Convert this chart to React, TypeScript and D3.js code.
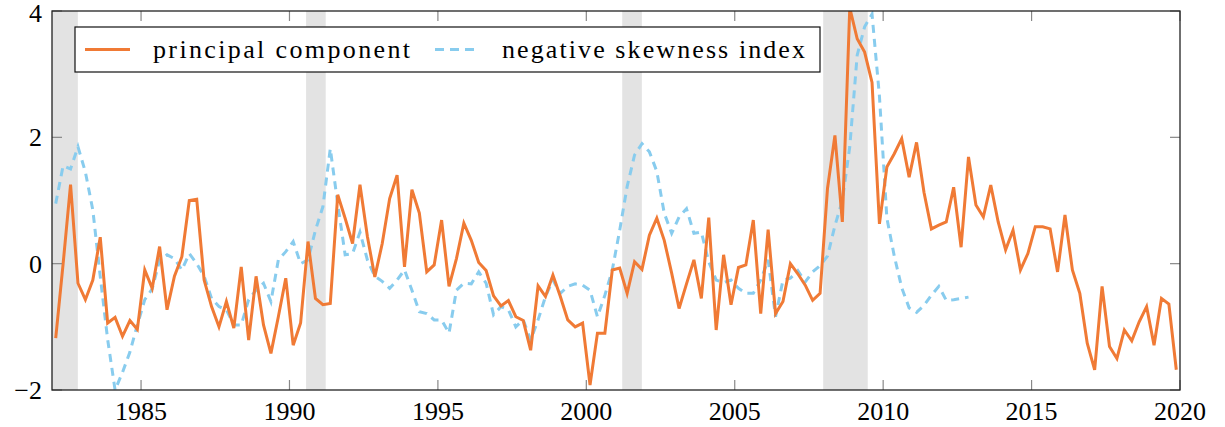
import React from "react";
import * as d3 from "d3";

const principalComponent = [
  -1.18, 0.0, 1.25, -0.31, -0.57, -0.26, 0.42, -0.94, -0.85, -1.15, -0.9, -1.04, -0.1, -0.39, 0.27, -0.73, -0.2, 0.11, 1.0, 1.02, -0.26, -0.68, -1.0, -0.6, -1.02,
  -0.05, -1.21, -0.2, -0.97, -1.42, -0.84, -0.23, -1.29, -0.94, 0.35, -0.55, -0.65, -0.63, 1.09, 0.72, 0.32, 1.25, 0.43, -0.21, 0.32, 1.03, 1.4, -0.05, 1.17, 0.8,
  -0.13, -0.02, 0.69, -0.36, 0.08, 0.64, 0.37, 0.02, -0.11, -0.51, -0.67, -0.585, -0.84, -0.9, -1.37, -0.35, -0.52, -0.18, -0.52, -0.89, -1.0, -0.94, -1.92, -1.1, -1.1,
  -0.1, -0.07, -0.47, 0.03, -0.09, 0.45, 0.72, 0.37, -0.15, -0.71, -0.32, 0.06, -0.55, 0.73, -1.05, 0.14, -0.65, -0.06, -0.02, 0.69, -0.79, 0.54, -0.79, -0.6, 0.0,
  -0.16, -0.34, -0.58, -0.47, 1.19, 2.03, 0.66, 4.05, 3.56, 3.35, 2.87, 0.63, 1.53, 1.74, 1.98, 1.37, 1.92, 1.13, 0.55, 0.61, 0.66, 1.21, 0.26, 1.69, 0.93,
  0.74, 1.245, 0.66, 0.22, 0.53, -0.1, 0.16, 0.585, 0.585, 0.55, -0.13, 0.77, -0.1, -0.47, -1.26, -1.68, -0.36, -1.31, -1.5, -1.05, -1.22, -0.92, -0.68, -1.29, -0.55, -0.64, -1.68,
];

const skewnessIndex = [
  0.95, 1.55, 1.5, 1.85, 1.45, 0.85, -0.2, -1.2, -2.0, -1.72, -1.4, -0.97, -0.57, -0.4, 0.06, 0.14, 0.08, -0.1, 0.16, 0.0, -0.2, -0.55, -0.68, -0.73, -0.97,
  -0.97, -0.57, -0.42, -0.31, -0.6, 0.06, 0.19, 0.35, 0.0, 0.06, 0.53, 0.9, 1.82, 0.95, 0.14, 0.16, 0.5, 0.06, -0.2, -0.28, -0.39, -0.26, -0.1, -0.42, -0.76,
  -0.79, -0.89, -0.89, -1.1, -0.42, -0.31, -0.32, -0.13, -0.31, -0.81, -0.68, -0.73, -1.0, -0.89, -1.21, -0.89, -0.52, -0.26, -0.47, -0.36, -0.32, -0.34, -0.42, -0.84, -0.5,
  -0.1, 0.53, 1.22, 1.72, 1.9, 1.77, 1.46, 0.8, 0.48, 0.74, 0.87, 0.48, 0.5, 0.03, -0.26, -0.3, -0.26, -0.39, -0.47, -0.47, -0.26, 0.06, -0.84, -0.26, -0.23,
  -0.11, -0.29, -0.13, -0.03, 0.12, 0.6, 1.0, 1.85, 3.3, 3.75, 3.95, 2.65, 0.72, 0.12, -0.38, -0.7, -0.77, -0.66, -0.5, -0.36, -0.58, -0.57, -0.55, -0.53,
];

const recessionStarts = [1982.0, 1990.56, 2001.21, 2007.98];
const recessionEnds = [1982.87, 1991.22, 2001.87, 2009.48];

const xTicks = [1985, 1990, 1995, 2000, 2005, 2010, 2015, 2020];
const yTicks = [-2, 0, 2, 4];

const startYear = 1982;
const seriesNames = ["principal component", "negative skewness index"];

const ORANGE = "#F07A35";
const BLUE = "#88CCEE";

const L = 52, R = 1180, T = 11, B = 390;

export default function App() {
  const x = d3.scaleLinear().domain([1982, 2020]).range([L, R]);
  const y = d3.scaleLinear().domain([-2, 4]).range([B, T]);
  const quarterTime = (i: number) => startYear + (i + 0.5) / 4;
  const line = d3
    .line<number>()
    .x((_, i) => x(quarterTime(i)))
    .y((d) => y(d));

  const font = "'Liberation Serif', 'DejaVu Serif', 'Noto Serif', 'Times New Roman', Times, Georgia, serif";
  const fs = 26;
  const tickLen = 10;

  return (
    <svg width={1225} height={427} style={{ position: "absolute", left: 0, top: 0 }}>
      <defs>
        <clipPath id="plotclip">
          <rect x={L} y={T} width={R - L} height={B - T} />
        </clipPath>
      </defs>
      <rect x={0} y={0} width={1225} height={427} fill="#fff" />
      {recessionStarts.map((s, k) => (
        <rect
          key={k}
          x={x(s)}
          y={T}
          width={x(recessionEnds[k]) - x(s)}
          height={B - T}
          fill="#e3e3e3"
        />
      ))}
      <g clipPath="url(#plotclip)">
        <path
          d={line(skewnessIndex) || ""}
          fill="none"
          stroke={BLUE}
          strokeWidth={3}
          strokeDasharray="8,6"
        />
        <path
          d={line(principalComponent) || ""}
          fill="none"
          stroke={ORANGE}
          strokeWidth={3}
          strokeLinejoin="miter"
        />
      </g>
      {xTicks.map((t) => (
        <g key={t}>
          <line x1={x(t)} x2={x(t)} y1={B} y2={B - tickLen} stroke="#888" strokeWidth={1.2} />
          <line x1={x(t)} x2={x(t)} y1={T} y2={T + tickLen} stroke="#888" strokeWidth={1.2} />
          <text x={x(t)} y={420} textAnchor="middle" style={{ fontFamily: font, fontSize: fs }} fill="#000">
            {t}
          </text>
        </g>
      ))}
      {yTicks.map((v) => (
        <g key={v}>
          <line x1={L} x2={L + tickLen} y1={y(v)} y2={y(v)} stroke="#888" strokeWidth={1.2} />
          <line x1={R} x2={R - tickLen} y1={y(v)} y2={y(v)} stroke="#888" strokeWidth={1.2} />
          <text x={42} y={y(v) + (v === 4 ? 11 : 9)} textAnchor="end" style={{ fontFamily: font, fontSize: fs }} fill="#000">
            {v < 0 ? "\u2212" + Math.abs(v) : String(v)}
          </text>
        </g>
      ))}
      <rect x={L} y={T} width={R - L} height={B - T} fill="none" stroke="#222" strokeWidth={1.3} />
      <g>
        <rect x={75} y={27} width={745} height={45} fill="#fff" stroke="#111" strokeWidth={1.2} />
        <line x1={85} x2={130} y1={49.5} y2={49.5} stroke={ORANGE} strokeWidth={3} />
        <text x={153} y={58} style={{ fontFamily: font, fontSize: fs }} textLength={257} lengthAdjust="spacing" fill="#000">
          {seriesNames[0]}
        </text>
        <line x1={435} x2={476} y1={49.5} y2={49.5} stroke={BLUE} strokeWidth={3} strokeDasharray="9,6" />
        <text x={502} y={58} style={{ fontFamily: font, fontSize: fs }} textLength={303} lengthAdjust="spacing" fill="#000">
          {seriesNames[1]}
        </text>
      </g>
    </svg>
  );
}
